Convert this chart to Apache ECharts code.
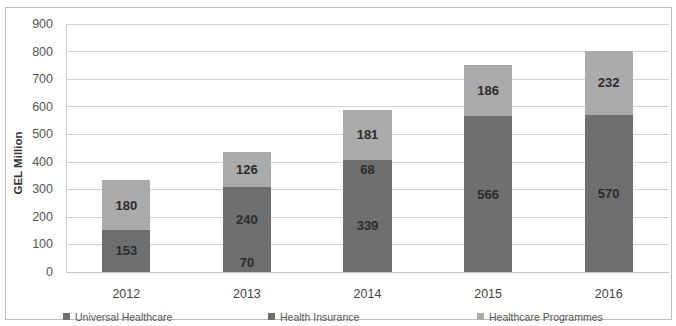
<!DOCTYPE html>
<html><head><meta charset="utf-8">
<script src="https://cdn.jsdelivr.net/npm/echarts@6/dist/echarts.min.js"></script>
<style>html,body{margin:0;padding:0;background:#fff}#c{width:676px;height:326px}#c svg path{shape-rendering:crispEdges}</style>
</head><body><div id="c"></div>
<script>
var categories = ['2012','2013','2014','2015','2016'];
var universalHealthcare = [null, 70, 339, 566, 570];
var healthInsurance = [153, 240, 68, null, null];
var healthcareProgrammes = [180, 126, 181, 186, 232];
var seriesNames = ['Universal Healthcare','Health Insurance','Healthcare Programmes'];
var yTicks = {min:0, max:900, interval:100};
var yAxisTitle = 'GEL Million';

var chart = echarts.init(document.getElementById('c'), null, {renderer:'svg'});
var lbl = {show:true, position:'inside', color:'#2b2b2b', fontSize:13, fontFamily:'Liberation Sans', fontWeight:'bold'};
function mk(name, data, color){
  return {name:name, type:'bar', stack:'t', data:data, barWidth:'40%',
    itemStyle:{color:color}, label:lbl, emphasis:{disabled:true}};
}
var legendStyle = {fontSize:10.5, color:'#555', fontFamily:'Liberation Sans'};
chart.setOption({
  animation:false,
  backgroundColor:'#fff',
  graphic:[
    {type:'rect', shape:{x:5.5,y:7.5,width:666,height:312}, style:{fill:'none', stroke:'#bdbdbd', lineWidth:1}, z:-1},
    {type:'text', x:12, y:163, rotation:Math.PI/2, style:{text:yAxisTitle, font:'bold 11.5px Liberation Sans', fill:'#333', align:'center', verticalAlign:'top'}}
  ],
  grid:{left:66, right:7, top:24, bottom:54},
  legend:[
    {data:[seriesNames[0]], left:58, top:306, itemWidth:7, itemHeight:7, icon:'rect', textStyle:legendStyle, selectedMode:false},
    {data:[seriesNames[1]], left:263, top:306, itemWidth:7, itemHeight:7, icon:'rect', textStyle:legendStyle, selectedMode:false},
    {data:[seriesNames[2]], left:472, top:306, itemWidth:7, itemHeight:7, icon:'rect', textStyle:legendStyle, selectedMode:false}
  ],
  xAxis:{type:'category', data:categories,
    axisLine:{lineStyle:{color:'#c8c8c8'}}, axisTick:{show:false},
    axisLabel:{color:'#444', fontSize:12.5, fontFamily:'Liberation Sans', margin:15}},
  yAxis:{type:'value', min:yTicks.min, max:yTicks.max, interval:yTicks.interval,
    axisLine:{show:true, lineStyle:{color:'#d0d0d0'}}, axisTick:{show:false},
    axisLabel:{color:'#555', fontSize:12.5, fontFamily:'Liberation Sans', margin:13},
    splitLine:{lineStyle:{color:'#d2d2d2'}}},
  series:[
    mk(seriesNames[0], universalHealthcare, '#6f6f6f'),
    mk(seriesNames[1], healthInsurance, '#6f6f6f'),
    mk(seriesNames[2], healthcareProgrammes, '#ababab')
  ]
});
</script></body></html>
